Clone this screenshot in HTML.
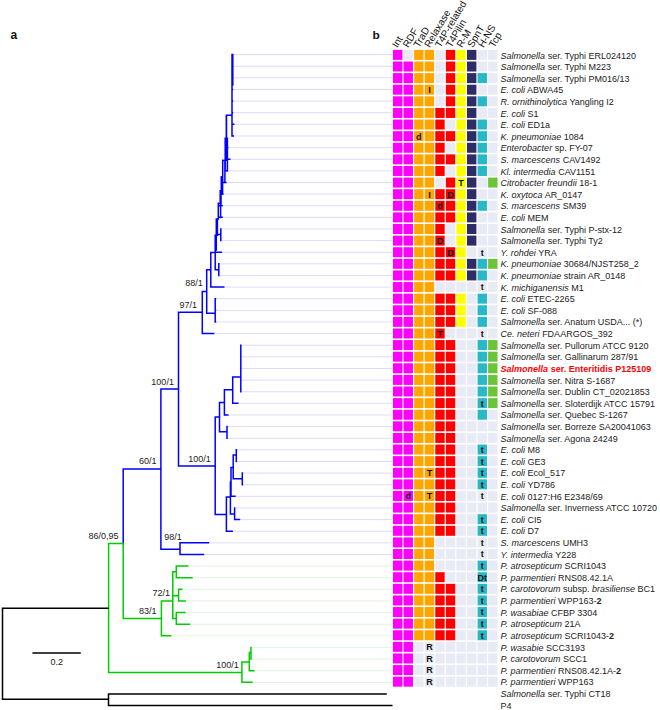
<!DOCTYPE html><html><head><meta charset="utf-8"><style>html,body{margin:0;padding:0;background:#fff;width:660px;height:710px;overflow:hidden}svg{display:block;font-family:"Liberation Sans",sans-serif}</style></head><body>
<svg width="660" height="710" viewBox="0 0 660 710">
<line x1="233.2" y1="54.60" x2="392" y2="54.60" stroke="#dcdcf9" stroke-width="1"/>
<line x1="233.2" y1="66.22" x2="392" y2="66.22" stroke="#dcdcf9" stroke-width="1"/>
<line x1="233.2" y1="77.85" x2="392" y2="77.85" stroke="#dcdcf9" stroke-width="1"/>
<line x1="233.2" y1="89.47" x2="392" y2="89.47" stroke="#dcdcf9" stroke-width="1"/>
<line x1="233.2" y1="101.10" x2="392" y2="101.10" stroke="#dcdcf9" stroke-width="1"/>
<line x1="233.2" y1="112.72" x2="392" y2="112.72" stroke="#dcdcf9" stroke-width="1"/>
<line x1="234.5" y1="124.35" x2="392" y2="124.35" stroke="#dcdcf9" stroke-width="1"/>
<line x1="234.0" y1="135.97" x2="392" y2="135.97" stroke="#dcdcf9" stroke-width="1"/>
<line x1="228.5" y1="147.60" x2="392" y2="147.60" stroke="#dcdcf9" stroke-width="1"/>
<line x1="230.5" y1="159.22" x2="392" y2="159.22" stroke="#dcdcf9" stroke-width="1"/>
<line x1="227.7" y1="170.85" x2="392" y2="170.85" stroke="#dcdcf9" stroke-width="1"/>
<line x1="226.6" y1="182.47" x2="392" y2="182.47" stroke="#dcdcf9" stroke-width="1"/>
<line x1="223.6" y1="194.10" x2="392" y2="194.10" stroke="#dcdcf9" stroke-width="1"/>
<line x1="222.8" y1="205.72" x2="392" y2="205.72" stroke="#dcdcf9" stroke-width="1"/>
<line x1="222.8" y1="217.35" x2="392" y2="217.35" stroke="#dcdcf9" stroke-width="1"/>
<line x1="221.6" y1="228.97" x2="392" y2="228.97" stroke="#dcdcf9" stroke-width="1"/>
<line x1="221.6" y1="240.60" x2="392" y2="240.60" stroke="#dcdcf9" stroke-width="1"/>
<line x1="222.1" y1="252.22" x2="392" y2="252.22" stroke="#dcdcf9" stroke-width="1"/>
<line x1="219.6" y1="263.85" x2="392" y2="263.85" stroke="#dcdcf9" stroke-width="1"/>
<line x1="219.6" y1="275.48" x2="392" y2="275.48" stroke="#dcdcf9" stroke-width="1"/>
<line x1="224.5" y1="287.10" x2="392" y2="287.10" stroke="#dcdcf9" stroke-width="1"/>
<line x1="216.2" y1="298.73" x2="392" y2="298.73" stroke="#dcdcf9" stroke-width="1"/>
<line x1="216.2" y1="310.35" x2="392" y2="310.35" stroke="#dcdcf9" stroke-width="1"/>
<line x1="216.2" y1="321.98" x2="392" y2="321.98" stroke="#dcdcf9" stroke-width="1"/>
<line x1="214.4" y1="333.60" x2="392" y2="333.60" stroke="#dcdcf9" stroke-width="1"/>
<line x1="241.6" y1="345.23" x2="392" y2="345.23" stroke="#dcdcf9" stroke-width="1"/>
<line x1="241.6" y1="356.85" x2="392" y2="356.85" stroke="#dcdcf9" stroke-width="1"/>
<line x1="241.6" y1="368.48" x2="392" y2="368.48" stroke="#dcdcf9" stroke-width="1"/>
<line x1="241.6" y1="380.10" x2="392" y2="380.10" stroke="#dcdcf9" stroke-width="1"/>
<line x1="241.6" y1="391.73" x2="392" y2="391.73" stroke="#dcdcf9" stroke-width="1"/>
<line x1="238.5" y1="403.35" x2="392" y2="403.35" stroke="#dcdcf9" stroke-width="1"/>
<line x1="228.6" y1="414.98" x2="392" y2="414.98" stroke="#dcdcf9" stroke-width="1"/>
<line x1="227.8" y1="426.60" x2="392" y2="426.60" stroke="#dcdcf9" stroke-width="1"/>
<line x1="227.8" y1="438.23" x2="392" y2="438.23" stroke="#dcdcf9" stroke-width="1"/>
<line x1="237.1" y1="449.85" x2="392" y2="449.85" stroke="#dcdcf9" stroke-width="1"/>
<line x1="237.1" y1="461.48" x2="392" y2="461.48" stroke="#dcdcf9" stroke-width="1"/>
<line x1="243.1" y1="473.10" x2="392" y2="473.10" stroke="#dcdcf9" stroke-width="1"/>
<line x1="243.1" y1="484.73" x2="392" y2="484.73" stroke="#dcdcf9" stroke-width="1"/>
<line x1="235.7" y1="496.35" x2="392" y2="496.35" stroke="#dcdcf9" stroke-width="1"/>
<line x1="235.4" y1="507.98" x2="392" y2="507.98" stroke="#dcdcf9" stroke-width="1"/>
<line x1="240.2" y1="519.60" x2="392" y2="519.60" stroke="#dcdcf9" stroke-width="1"/>
<line x1="232.9" y1="531.23" x2="392" y2="531.23" stroke="#dcdcf9" stroke-width="1"/>
<line x1="209.2" y1="542.85" x2="392" y2="542.85" stroke="#dcdcf9" stroke-width="1"/>
<line x1="204.2" y1="554.48" x2="392" y2="554.48" stroke="#dcdcf9" stroke-width="1"/>
<line x1="188.4" y1="566.10" x2="392" y2="566.10" stroke="#dff5df" stroke-width="1"/>
<line x1="192.7" y1="577.73" x2="392" y2="577.73" stroke="#dff5df" stroke-width="1"/>
<line x1="182.5" y1="589.35" x2="392" y2="589.35" stroke="#dff5df" stroke-width="1"/>
<line x1="185.9" y1="600.98" x2="392" y2="600.98" stroke="#dff5df" stroke-width="1"/>
<line x1="185.7" y1="612.60" x2="392" y2="612.60" stroke="#dff5df" stroke-width="1"/>
<line x1="190.2" y1="624.23" x2="392" y2="624.23" stroke="#dff5df" stroke-width="1"/>
<line x1="171.3" y1="635.85" x2="392" y2="635.85" stroke="#dff5df" stroke-width="1"/>
<line x1="251.8" y1="647.48" x2="392" y2="647.48" stroke="#dff5df" stroke-width="1"/>
<line x1="251.8" y1="659.10" x2="392" y2="659.10" stroke="#dff5df" stroke-width="1"/>
<line x1="254.6" y1="670.73" x2="392" y2="670.73" stroke="#dff5df" stroke-width="1"/>
<line x1="252.7" y1="682.35" x2="392" y2="682.35" stroke="#dff5df" stroke-width="1"/>
<path d="M160.90 388.15V549.95M122.45 469.00H160.90M178.50 311.45V466.65M160.15 388.90H178.50M177.75 465.90H215.20M177.75 312.20H202.30M202.30 290.65V334.35M201.55 333.60H214.40M201.55 291.40H206.70M206.70 269.05V313.95M205.95 313.20H215.20M215.20 297.98V322.73M214.45 298.73H216.20M214.45 310.35H216.20M214.45 321.98H216.20M205.95 269.80H210.80M210.80 251.75V287.85M210.05 287.10H224.50M210.05 252.50H215.20M215.20 234.55V270.55M214.45 252.22H222.10M214.45 269.80H218.80M218.80 263.10V276.23M218.05 263.85H219.60M218.05 275.48H219.60M214.45 235.30H216.30M216.30 218.25V237.25M215.55 234.50H220.80M220.80 228.22V241.35M220.05 228.97H221.60M220.05 240.60H221.60M215.55 219.00H218.30M218.30 202.45V219.75M217.55 205.72H222.80M217.55 217.35H222.80M217.55 203.50H220.20M220.20 190.05V204.55M219.45 191.00H221.30M221.30 176.05V194.85M220.55 194.10H223.60M220.55 177.00H222.70M222.70 159.45V183.22M221.95 182.47H226.60M221.95 160.50H225.20M225.20 137.45V171.60M224.45 147.60H228.50M224.45 159.22H230.50M224.45 170.85H227.70M224.45 138.20H226.30M226.30 114.45V138.95M225.55 115.20H232.00M232.00 53.85V136.72M231.25 54.60H233.20M231.25 66.22H233.20M231.25 77.85H233.20M231.25 89.47H233.20M231.25 101.10H233.20M231.25 112.72H233.20M231.25 124.35H234.50M231.25 135.97H234.00M226.50 114.45V160.95M227.40 137.45V171.75M224.90 159.45V182.95M222.60 177.25V194.95M221.00 190.05V205.25M220.60 202.95V218.25M217.40 218.25V235.95M216.30 234.25V250.75M232.80 53.85V85.75M215.20 416.35V515.25M214.45 417.10H219.50M219.50 401.65V432.45M218.75 431.70H227.00M227.00 425.85V438.98M226.25 426.60H227.80M226.25 438.23H227.80M218.75 402.40H224.40M224.40 388.95V415.73M223.65 414.98H228.60M223.65 389.70H232.70M232.70 376.15V404.10M231.95 403.35H238.50M231.95 376.90H240.80M240.80 344.48V392.48M240.05 345.23H241.60M240.05 356.85H241.60M240.05 368.48H241.60M240.05 380.10H241.60M240.05 391.73H241.60M214.45 514.50H226.40M226.40 496.25V531.98M225.65 531.23H232.90M225.65 497.00H230.40M230.40 481.25V514.75M229.65 514.00H234.60M234.60 507.23V520.35M233.85 507.98H235.40M233.85 519.60H240.20M229.65 482.00H231.00M231.00 466.75V497.10M230.25 496.35H235.70M230.25 467.50H233.20M233.20 454.25V479.45M232.45 455.00H236.30M236.30 449.10V462.23M235.55 449.85H237.10M235.55 461.48H237.10M232.45 478.70H242.30M242.30 472.35V485.48M241.55 473.10H243.10M241.55 484.73H243.10M160.15 549.20H180.00M180.00 542.10V555.23M179.25 542.85H209.20M179.25 554.48H204.20M123.20 468.25V544.35" stroke="#0000ff" stroke-width="1.5" fill="none"/>
<path d="M108.60 542.85V673.15M107.85 543.60H123.20M123.20 542.85V619.35M122.45 618.60H161.40M161.40 600.35V636.60M160.65 635.85H171.30M160.65 601.10H172.80M172.80 571.05V619.35M172.05 571.80H176.30M176.30 565.35V578.48M175.55 566.10H188.40M175.55 577.73H192.70M172.05 595.80H178.60M178.60 588.60V601.73M177.85 589.35H182.50M177.85 600.98H185.90M172.05 618.60H176.30M176.30 611.85V624.98M175.55 612.60H185.70M175.55 624.23H190.20M107.85 672.40H241.90M241.90 661.25V683.10M241.15 682.35H252.70M241.15 662.00H249.30M249.30 651.75V671.48M248.55 670.73H254.60M248.55 652.50H251.00M251.00 646.73V659.85M250.25 647.48H251.80M250.25 659.10H251.80" stroke="#00cc00" stroke-width="1.5" fill="none"/>
<path d="M2.50 607.55V700.05M1.75 608.30H108.60M1.75 699.30H108.50M108.50 693.25V706.25M107.75 694.00H386.80M107.75 705.50H392.50M32.45 653.00H80.80" stroke="#000000" stroke-width="1.5" fill="none"/>
<rect x="393.00" y="49.90" width="9.4" height="10.0" fill="#ff00ff"/>
<rect x="403.57" y="49.90" width="9.4" height="10.0" fill="#e8ebf5"/>
<rect x="414.14" y="49.90" width="9.4" height="10.0" fill="#ffa500"/>
<rect x="424.71" y="49.90" width="9.4" height="10.0" fill="#ffa500"/>
<rect x="435.28" y="49.90" width="9.4" height="10.0" fill="#e8ebf5"/>
<rect x="445.85" y="49.90" width="9.4" height="10.0" fill="#ff0000"/>
<rect x="456.42" y="49.90" width="9.4" height="10.0" fill="#ffff00"/>
<rect x="466.99" y="49.90" width="9.4" height="10.0" fill="#2e2c66"/>
<rect x="477.56" y="49.90" width="9.4" height="10.0" fill="#e8ebf5"/>
<rect x="488.13" y="49.90" width="9.4" height="10.0" fill="#e8ebf5"/>
<rect x="393.00" y="61.51" width="9.4" height="10.0" fill="#ff00ff"/>
<rect x="403.57" y="61.51" width="9.4" height="10.0" fill="#ff00ff"/>
<rect x="414.14" y="61.51" width="9.4" height="10.0" fill="#ffa500"/>
<rect x="424.71" y="61.51" width="9.4" height="10.0" fill="#ffa500"/>
<rect x="435.28" y="61.51" width="9.4" height="10.0" fill="#e8ebf5"/>
<rect x="445.85" y="61.51" width="9.4" height="10.0" fill="#ff0000"/>
<rect x="456.42" y="61.51" width="9.4" height="10.0" fill="#ffff00"/>
<rect x="466.99" y="61.51" width="9.4" height="10.0" fill="#2e2c66"/>
<rect x="477.56" y="61.51" width="9.4" height="10.0" fill="#e8ebf5"/>
<rect x="488.13" y="61.51" width="9.4" height="10.0" fill="#e8ebf5"/>
<rect x="393.00" y="73.11" width="9.4" height="10.0" fill="#ff00ff"/>
<rect x="403.57" y="73.11" width="9.4" height="10.0" fill="#ff00ff"/>
<rect x="414.14" y="73.11" width="9.4" height="10.0" fill="#ffa500"/>
<rect x="424.71" y="73.11" width="9.4" height="10.0" fill="#ffa500"/>
<rect x="435.28" y="73.11" width="9.4" height="10.0" fill="#e8ebf5"/>
<rect x="445.85" y="73.11" width="9.4" height="10.0" fill="#ff0000"/>
<rect x="456.42" y="73.11" width="9.4" height="10.0" fill="#ffff00"/>
<rect x="466.99" y="73.11" width="9.4" height="10.0" fill="#2e2c66"/>
<rect x="477.56" y="73.11" width="9.4" height="10.0" fill="#28b8c8"/>
<rect x="488.13" y="73.11" width="9.4" height="10.0" fill="#e8ebf5"/>
<rect x="393.00" y="84.72" width="9.4" height="10.0" fill="#ff00ff"/>
<rect x="403.57" y="84.72" width="9.4" height="10.0" fill="#ff00ff"/>
<rect x="414.14" y="84.72" width="9.4" height="10.0" fill="#ffa500"/>
<rect x="424.71" y="84.72" width="9.4" height="10.0" fill="#ffa500"/>
<rect x="435.28" y="84.72" width="9.4" height="10.0" fill="#e8ebf5"/>
<rect x="445.85" y="84.72" width="9.4" height="10.0" fill="#ff0000"/>
<rect x="456.42" y="84.72" width="9.4" height="10.0" fill="#ffff00"/>
<rect x="466.99" y="84.72" width="9.4" height="10.0" fill="#2e2c66"/>
<rect x="477.56" y="84.72" width="9.4" height="10.0" fill="#e8ebf5"/>
<rect x="488.13" y="84.72" width="9.4" height="10.0" fill="#e8ebf5"/>
<rect x="393.00" y="96.33" width="9.4" height="10.0" fill="#ff00ff"/>
<rect x="403.57" y="96.33" width="9.4" height="10.0" fill="#ff00ff"/>
<rect x="414.14" y="96.33" width="9.4" height="10.0" fill="#ffa500"/>
<rect x="424.71" y="96.33" width="9.4" height="10.0" fill="#ffa500"/>
<rect x="435.28" y="96.33" width="9.4" height="10.0" fill="#e8ebf5"/>
<rect x="445.85" y="96.33" width="9.4" height="10.0" fill="#ff0000"/>
<rect x="456.42" y="96.33" width="9.4" height="10.0" fill="#ffff00"/>
<rect x="466.99" y="96.33" width="9.4" height="10.0" fill="#2e2c66"/>
<rect x="477.56" y="96.33" width="9.4" height="10.0" fill="#28b8c8"/>
<rect x="488.13" y="96.33" width="9.4" height="10.0" fill="#e8ebf5"/>
<rect x="393.00" y="107.94" width="9.4" height="10.0" fill="#ff00ff"/>
<rect x="403.57" y="107.94" width="9.4" height="10.0" fill="#ff00ff"/>
<rect x="414.14" y="107.94" width="9.4" height="10.0" fill="#ffa500"/>
<rect x="424.71" y="107.94" width="9.4" height="10.0" fill="#ffa500"/>
<rect x="435.28" y="107.94" width="9.4" height="10.0" fill="#ff0000"/>
<rect x="445.85" y="107.94" width="9.4" height="10.0" fill="#ff0000"/>
<rect x="456.42" y="107.94" width="9.4" height="10.0" fill="#ffff00"/>
<rect x="466.99" y="107.94" width="9.4" height="10.0" fill="#2e2c66"/>
<rect x="477.56" y="107.94" width="9.4" height="10.0" fill="#e8ebf5"/>
<rect x="488.13" y="107.94" width="9.4" height="10.0" fill="#e8ebf5"/>
<rect x="393.00" y="119.54" width="9.4" height="10.0" fill="#ff00ff"/>
<rect x="403.57" y="119.54" width="9.4" height="10.0" fill="#ff00ff"/>
<rect x="414.14" y="119.54" width="9.4" height="10.0" fill="#ffa500"/>
<rect x="424.71" y="119.54" width="9.4" height="10.0" fill="#ffa500"/>
<rect x="435.28" y="119.54" width="9.4" height="10.0" fill="#ff0000"/>
<rect x="445.85" y="119.54" width="9.4" height="10.0" fill="#e8ebf5"/>
<rect x="456.42" y="119.54" width="9.4" height="10.0" fill="#ffff00"/>
<rect x="466.99" y="119.54" width="9.4" height="10.0" fill="#2e2c66"/>
<rect x="477.56" y="119.54" width="9.4" height="10.0" fill="#28b8c8"/>
<rect x="488.13" y="119.54" width="9.4" height="10.0" fill="#e8ebf5"/>
<rect x="393.00" y="131.15" width="9.4" height="10.0" fill="#ff00ff"/>
<rect x="403.57" y="131.15" width="9.4" height="10.0" fill="#ff00ff"/>
<rect x="414.14" y="131.15" width="9.4" height="10.0" fill="#ffa500"/>
<rect x="424.71" y="131.15" width="9.4" height="10.0" fill="#ffa500"/>
<rect x="435.28" y="131.15" width="9.4" height="10.0" fill="#ff0000"/>
<rect x="445.85" y="131.15" width="9.4" height="10.0" fill="#ff0000"/>
<rect x="456.42" y="131.15" width="9.4" height="10.0" fill="#ffff00"/>
<rect x="466.99" y="131.15" width="9.4" height="10.0" fill="#2e2c66"/>
<rect x="477.56" y="131.15" width="9.4" height="10.0" fill="#28b8c8"/>
<rect x="488.13" y="131.15" width="9.4" height="10.0" fill="#e8ebf5"/>
<rect x="393.00" y="142.76" width="9.4" height="10.0" fill="#ff00ff"/>
<rect x="403.57" y="142.76" width="9.4" height="10.0" fill="#ff00ff"/>
<rect x="414.14" y="142.76" width="9.4" height="10.0" fill="#ffa500"/>
<rect x="424.71" y="142.76" width="9.4" height="10.0" fill="#ffa500"/>
<rect x="435.28" y="142.76" width="9.4" height="10.0" fill="#ff0000"/>
<rect x="445.85" y="142.76" width="9.4" height="10.0" fill="#e8ebf5"/>
<rect x="456.42" y="142.76" width="9.4" height="10.0" fill="#ffff00"/>
<rect x="466.99" y="142.76" width="9.4" height="10.0" fill="#2e2c66"/>
<rect x="477.56" y="142.76" width="9.4" height="10.0" fill="#28b8c8"/>
<rect x="488.13" y="142.76" width="9.4" height="10.0" fill="#e8ebf5"/>
<rect x="393.00" y="154.36" width="9.4" height="10.0" fill="#ff00ff"/>
<rect x="403.57" y="154.36" width="9.4" height="10.0" fill="#ff00ff"/>
<rect x="414.14" y="154.36" width="9.4" height="10.0" fill="#ffa500"/>
<rect x="424.71" y="154.36" width="9.4" height="10.0" fill="#ffa500"/>
<rect x="435.28" y="154.36" width="9.4" height="10.0" fill="#ff0000"/>
<rect x="445.85" y="154.36" width="9.4" height="10.0" fill="#ff0000"/>
<rect x="456.42" y="154.36" width="9.4" height="10.0" fill="#ffff00"/>
<rect x="466.99" y="154.36" width="9.4" height="10.0" fill="#2e2c66"/>
<rect x="477.56" y="154.36" width="9.4" height="10.0" fill="#28b8c8"/>
<rect x="488.13" y="154.36" width="9.4" height="10.0" fill="#e8ebf5"/>
<rect x="393.00" y="165.97" width="9.4" height="10.0" fill="#ff00ff"/>
<rect x="403.57" y="165.97" width="9.4" height="10.0" fill="#ff00ff"/>
<rect x="414.14" y="165.97" width="9.4" height="10.0" fill="#ffa500"/>
<rect x="424.71" y="165.97" width="9.4" height="10.0" fill="#ffa500"/>
<rect x="435.28" y="165.97" width="9.4" height="10.0" fill="#ff0000"/>
<rect x="445.85" y="165.97" width="9.4" height="10.0" fill="#e8ebf5"/>
<rect x="456.42" y="165.97" width="9.4" height="10.0" fill="#ffff00"/>
<rect x="466.99" y="165.97" width="9.4" height="10.0" fill="#2e2c66"/>
<rect x="477.56" y="165.97" width="9.4" height="10.0" fill="#28b8c8"/>
<rect x="488.13" y="165.97" width="9.4" height="10.0" fill="#e8ebf5"/>
<rect x="393.00" y="177.58" width="9.4" height="10.0" fill="#ff00ff"/>
<rect x="403.57" y="177.58" width="9.4" height="10.0" fill="#ff00ff"/>
<rect x="414.14" y="177.58" width="9.4" height="10.0" fill="#ffa500"/>
<rect x="424.71" y="177.58" width="9.4" height="10.0" fill="#ffa500"/>
<rect x="435.28" y="177.58" width="9.4" height="10.0" fill="#e8ebf5"/>
<rect x="445.85" y="177.58" width="9.4" height="10.0" fill="#ff0000"/>
<rect x="456.42" y="177.58" width="9.4" height="10.0" fill="#ffff00"/>
<rect x="466.99" y="177.58" width="9.4" height="10.0" fill="#2e2c66"/>
<rect x="477.56" y="177.58" width="9.4" height="10.0" fill="#e8ebf5"/>
<rect x="488.13" y="177.58" width="9.4" height="10.0" fill="#6cc43a"/>
<rect x="393.00" y="189.18" width="9.4" height="10.0" fill="#ff00ff"/>
<rect x="403.57" y="189.18" width="9.4" height="10.0" fill="#ff00ff"/>
<rect x="414.14" y="189.18" width="9.4" height="10.0" fill="#ffa500"/>
<rect x="424.71" y="189.18" width="9.4" height="10.0" fill="#ffa500"/>
<rect x="435.28" y="189.18" width="9.4" height="10.0" fill="#ff0000"/>
<rect x="445.85" y="189.18" width="9.4" height="10.0" fill="#ff0000"/>
<rect x="456.42" y="189.18" width="9.4" height="10.0" fill="#ffff00"/>
<rect x="466.99" y="189.18" width="9.4" height="10.0" fill="#2e2c66"/>
<rect x="477.56" y="189.18" width="9.4" height="10.0" fill="#e8ebf5"/>
<rect x="488.13" y="189.18" width="9.4" height="10.0" fill="#e8ebf5"/>
<rect x="393.00" y="200.79" width="9.4" height="10.0" fill="#ff00ff"/>
<rect x="403.57" y="200.79" width="9.4" height="10.0" fill="#ff00ff"/>
<rect x="414.14" y="200.79" width="9.4" height="10.0" fill="#ffa500"/>
<rect x="424.71" y="200.79" width="9.4" height="10.0" fill="#ffa500"/>
<rect x="435.28" y="200.79" width="9.4" height="10.0" fill="#ff0000"/>
<rect x="445.85" y="200.79" width="9.4" height="10.0" fill="#ff0000"/>
<rect x="456.42" y="200.79" width="9.4" height="10.0" fill="#ffff00"/>
<rect x="466.99" y="200.79" width="9.4" height="10.0" fill="#2e2c66"/>
<rect x="477.56" y="200.79" width="9.4" height="10.0" fill="#28b8c8"/>
<rect x="488.13" y="200.79" width="9.4" height="10.0" fill="#e8ebf5"/>
<rect x="393.00" y="212.40" width="9.4" height="10.0" fill="#ff00ff"/>
<rect x="403.57" y="212.40" width="9.4" height="10.0" fill="#ff00ff"/>
<rect x="414.14" y="212.40" width="9.4" height="10.0" fill="#ffa500"/>
<rect x="424.71" y="212.40" width="9.4" height="10.0" fill="#ffa500"/>
<rect x="435.28" y="212.40" width="9.4" height="10.0" fill="#ff0000"/>
<rect x="445.85" y="212.40" width="9.4" height="10.0" fill="#ff0000"/>
<rect x="456.42" y="212.40" width="9.4" height="10.0" fill="#ffff00"/>
<rect x="466.99" y="212.40" width="9.4" height="10.0" fill="#2e2c66"/>
<rect x="477.56" y="212.40" width="9.4" height="10.0" fill="#e8ebf5"/>
<rect x="488.13" y="212.40" width="9.4" height="10.0" fill="#e8ebf5"/>
<rect x="393.00" y="224.00" width="9.4" height="10.0" fill="#ff00ff"/>
<rect x="403.57" y="224.00" width="9.4" height="10.0" fill="#ff00ff"/>
<rect x="414.14" y="224.00" width="9.4" height="10.0" fill="#ffa500"/>
<rect x="424.71" y="224.00" width="9.4" height="10.0" fill="#ffa500"/>
<rect x="435.28" y="224.00" width="9.4" height="10.0" fill="#ff0000"/>
<rect x="445.85" y="224.00" width="9.4" height="10.0" fill="#e8ebf5"/>
<rect x="456.42" y="224.00" width="9.4" height="10.0" fill="#ffff00"/>
<rect x="466.99" y="224.00" width="9.4" height="10.0" fill="#2e2c66"/>
<rect x="477.56" y="224.00" width="9.4" height="10.0" fill="#e8ebf5"/>
<rect x="488.13" y="224.00" width="9.4" height="10.0" fill="#e8ebf5"/>
<rect x="393.00" y="235.61" width="9.4" height="10.0" fill="#ff00ff"/>
<rect x="403.57" y="235.61" width="9.4" height="10.0" fill="#ff00ff"/>
<rect x="414.14" y="235.61" width="9.4" height="10.0" fill="#ffa500"/>
<rect x="424.71" y="235.61" width="9.4" height="10.0" fill="#ffa500"/>
<rect x="435.28" y="235.61" width="9.4" height="10.0" fill="#ff0000"/>
<rect x="445.85" y="235.61" width="9.4" height="10.0" fill="#e8ebf5"/>
<rect x="456.42" y="235.61" width="9.4" height="10.0" fill="#ffff00"/>
<rect x="466.99" y="235.61" width="9.4" height="10.0" fill="#2e2c66"/>
<rect x="477.56" y="235.61" width="9.4" height="10.0" fill="#e8ebf5"/>
<rect x="488.13" y="235.61" width="9.4" height="10.0" fill="#e8ebf5"/>
<rect x="393.00" y="247.22" width="9.4" height="10.0" fill="#ff00ff"/>
<rect x="403.57" y="247.22" width="9.4" height="10.0" fill="#ff00ff"/>
<rect x="414.14" y="247.22" width="9.4" height="10.0" fill="#ffa500"/>
<rect x="424.71" y="247.22" width="9.4" height="10.0" fill="#ffa500"/>
<rect x="435.28" y="247.22" width="9.4" height="10.0" fill="#ff0000"/>
<rect x="445.85" y="247.22" width="9.4" height="10.0" fill="#ff0000"/>
<rect x="456.42" y="247.22" width="9.4" height="10.0" fill="#ffff00"/>
<rect x="466.99" y="247.22" width="9.4" height="10.0" fill="#e8ebf5"/>
<rect x="477.56" y="247.22" width="9.4" height="10.0" fill="#e8ebf5"/>
<rect x="488.13" y="247.22" width="9.4" height="10.0" fill="#e8ebf5"/>
<rect x="393.00" y="258.83" width="9.4" height="10.0" fill="#ff00ff"/>
<rect x="403.57" y="258.83" width="9.4" height="10.0" fill="#ff00ff"/>
<rect x="414.14" y="258.83" width="9.4" height="10.0" fill="#ffa500"/>
<rect x="424.71" y="258.83" width="9.4" height="10.0" fill="#ffa500"/>
<rect x="435.28" y="258.83" width="9.4" height="10.0" fill="#ff0000"/>
<rect x="445.85" y="258.83" width="9.4" height="10.0" fill="#ff0000"/>
<rect x="456.42" y="258.83" width="9.4" height="10.0" fill="#ffff00"/>
<rect x="466.99" y="258.83" width="9.4" height="10.0" fill="#2e2c66"/>
<rect x="477.56" y="258.83" width="9.4" height="10.0" fill="#28b8c8"/>
<rect x="488.13" y="258.83" width="9.4" height="10.0" fill="#6cc43a"/>
<rect x="393.00" y="270.43" width="9.4" height="10.0" fill="#ff00ff"/>
<rect x="403.57" y="270.43" width="9.4" height="10.0" fill="#ff00ff"/>
<rect x="414.14" y="270.43" width="9.4" height="10.0" fill="#ffa500"/>
<rect x="424.71" y="270.43" width="9.4" height="10.0" fill="#ffa500"/>
<rect x="435.28" y="270.43" width="9.4" height="10.0" fill="#ff0000"/>
<rect x="445.85" y="270.43" width="9.4" height="10.0" fill="#ff0000"/>
<rect x="456.42" y="270.43" width="9.4" height="10.0" fill="#ffff00"/>
<rect x="466.99" y="270.43" width="9.4" height="10.0" fill="#2e2c66"/>
<rect x="477.56" y="270.43" width="9.4" height="10.0" fill="#28b8c8"/>
<rect x="488.13" y="270.43" width="9.4" height="10.0" fill="#e8ebf5"/>
<rect x="393.00" y="282.04" width="9.4" height="10.0" fill="#ff00ff"/>
<rect x="403.57" y="282.04" width="9.4" height="10.0" fill="#ff00ff"/>
<rect x="414.14" y="282.04" width="9.4" height="10.0" fill="#ffa500"/>
<rect x="424.71" y="282.04" width="9.4" height="10.0" fill="#ffa500"/>
<rect x="435.28" y="282.04" width="9.4" height="10.0" fill="#e8ebf5"/>
<rect x="445.85" y="282.04" width="9.4" height="10.0" fill="#e8ebf5"/>
<rect x="456.42" y="282.04" width="9.4" height="10.0" fill="#e8ebf5"/>
<rect x="466.99" y="282.04" width="9.4" height="10.0" fill="#e8ebf5"/>
<rect x="477.56" y="282.04" width="9.4" height="10.0" fill="#e8ebf5"/>
<rect x="488.13" y="282.04" width="9.4" height="10.0" fill="#e8ebf5"/>
<rect x="393.00" y="293.65" width="9.4" height="10.0" fill="#ff00ff"/>
<rect x="403.57" y="293.65" width="9.4" height="10.0" fill="#ff00ff"/>
<rect x="414.14" y="293.65" width="9.4" height="10.0" fill="#ffa500"/>
<rect x="424.71" y="293.65" width="9.4" height="10.0" fill="#ffa500"/>
<rect x="435.28" y="293.65" width="9.4" height="10.0" fill="#ff0000"/>
<rect x="445.85" y="293.65" width="9.4" height="10.0" fill="#ff0000"/>
<rect x="456.42" y="293.65" width="9.4" height="10.0" fill="#ffff00"/>
<rect x="466.99" y="293.65" width="9.4" height="10.0" fill="#e8ebf5"/>
<rect x="477.56" y="293.65" width="9.4" height="10.0" fill="#28b8c8"/>
<rect x="488.13" y="293.65" width="9.4" height="10.0" fill="#e8ebf5"/>
<rect x="393.00" y="305.25" width="9.4" height="10.0" fill="#ff00ff"/>
<rect x="403.57" y="305.25" width="9.4" height="10.0" fill="#ff00ff"/>
<rect x="414.14" y="305.25" width="9.4" height="10.0" fill="#ffa500"/>
<rect x="424.71" y="305.25" width="9.4" height="10.0" fill="#ffa500"/>
<rect x="435.28" y="305.25" width="9.4" height="10.0" fill="#ff0000"/>
<rect x="445.85" y="305.25" width="9.4" height="10.0" fill="#ff0000"/>
<rect x="456.42" y="305.25" width="9.4" height="10.0" fill="#ffff00"/>
<rect x="466.99" y="305.25" width="9.4" height="10.0" fill="#e8ebf5"/>
<rect x="477.56" y="305.25" width="9.4" height="10.0" fill="#28b8c8"/>
<rect x="488.13" y="305.25" width="9.4" height="10.0" fill="#e8ebf5"/>
<rect x="393.00" y="316.86" width="9.4" height="10.0" fill="#ff00ff"/>
<rect x="403.57" y="316.86" width="9.4" height="10.0" fill="#ff00ff"/>
<rect x="414.14" y="316.86" width="9.4" height="10.0" fill="#ffa500"/>
<rect x="424.71" y="316.86" width="9.4" height="10.0" fill="#ffa500"/>
<rect x="435.28" y="316.86" width="9.4" height="10.0" fill="#ff0000"/>
<rect x="445.85" y="316.86" width="9.4" height="10.0" fill="#ff0000"/>
<rect x="456.42" y="316.86" width="9.4" height="10.0" fill="#ffff00"/>
<rect x="466.99" y="316.86" width="9.4" height="10.0" fill="#e8ebf5"/>
<rect x="477.56" y="316.86" width="9.4" height="10.0" fill="#28b8c8"/>
<rect x="488.13" y="316.86" width="9.4" height="10.0" fill="#e8ebf5"/>
<rect x="393.00" y="328.47" width="9.4" height="10.0" fill="#ff00ff"/>
<rect x="403.57" y="328.47" width="9.4" height="10.0" fill="#ff00ff"/>
<rect x="414.14" y="328.47" width="9.4" height="10.0" fill="#ffa500"/>
<rect x="424.71" y="328.47" width="9.4" height="10.0" fill="#ffa500"/>
<rect x="435.28" y="328.47" width="9.4" height="10.0" fill="#ff0000"/>
<rect x="445.85" y="328.47" width="9.4" height="10.0" fill="#e8ebf5"/>
<rect x="456.42" y="328.47" width="9.4" height="10.0" fill="#e8ebf5"/>
<rect x="466.99" y="328.47" width="9.4" height="10.0" fill="#e8ebf5"/>
<rect x="477.56" y="328.47" width="9.4" height="10.0" fill="#e8ebf5"/>
<rect x="488.13" y="328.47" width="9.4" height="10.0" fill="#e8ebf5"/>
<rect x="393.00" y="340.07" width="9.4" height="10.0" fill="#ff00ff"/>
<rect x="403.57" y="340.07" width="9.4" height="10.0" fill="#ff00ff"/>
<rect x="414.14" y="340.07" width="9.4" height="10.0" fill="#ffa500"/>
<rect x="424.71" y="340.07" width="9.4" height="10.0" fill="#ffa500"/>
<rect x="435.28" y="340.07" width="9.4" height="10.0" fill="#ff0000"/>
<rect x="445.85" y="340.07" width="9.4" height="10.0" fill="#ff0000"/>
<rect x="456.42" y="340.07" width="9.4" height="10.0" fill="#e8ebf5"/>
<rect x="466.99" y="340.07" width="9.4" height="10.0" fill="#e8ebf5"/>
<rect x="477.56" y="340.07" width="9.4" height="10.0" fill="#28b8c8"/>
<rect x="488.13" y="340.07" width="9.4" height="10.0" fill="#6cc43a"/>
<rect x="393.00" y="351.68" width="9.4" height="10.0" fill="#ff00ff"/>
<rect x="403.57" y="351.68" width="9.4" height="10.0" fill="#ff00ff"/>
<rect x="414.14" y="351.68" width="9.4" height="10.0" fill="#ffa500"/>
<rect x="424.71" y="351.68" width="9.4" height="10.0" fill="#ffa500"/>
<rect x="435.28" y="351.68" width="9.4" height="10.0" fill="#ff0000"/>
<rect x="445.85" y="351.68" width="9.4" height="10.0" fill="#ff0000"/>
<rect x="456.42" y="351.68" width="9.4" height="10.0" fill="#e8ebf5"/>
<rect x="466.99" y="351.68" width="9.4" height="10.0" fill="#e8ebf5"/>
<rect x="477.56" y="351.68" width="9.4" height="10.0" fill="#28b8c8"/>
<rect x="488.13" y="351.68" width="9.4" height="10.0" fill="#6cc43a"/>
<rect x="393.00" y="363.29" width="9.4" height="10.0" fill="#ff00ff"/>
<rect x="403.57" y="363.29" width="9.4" height="10.0" fill="#ff00ff"/>
<rect x="414.14" y="363.29" width="9.4" height="10.0" fill="#ffa500"/>
<rect x="424.71" y="363.29" width="9.4" height="10.0" fill="#ffa500"/>
<rect x="435.28" y="363.29" width="9.4" height="10.0" fill="#ff0000"/>
<rect x="445.85" y="363.29" width="9.4" height="10.0" fill="#ff0000"/>
<rect x="456.42" y="363.29" width="9.4" height="10.0" fill="#e8ebf5"/>
<rect x="466.99" y="363.29" width="9.4" height="10.0" fill="#e8ebf5"/>
<rect x="477.56" y="363.29" width="9.4" height="10.0" fill="#28b8c8"/>
<rect x="488.13" y="363.29" width="9.4" height="10.0" fill="#6cc43a"/>
<rect x="393.00" y="374.90" width="9.4" height="10.0" fill="#ff00ff"/>
<rect x="403.57" y="374.90" width="9.4" height="10.0" fill="#ff00ff"/>
<rect x="414.14" y="374.90" width="9.4" height="10.0" fill="#ffa500"/>
<rect x="424.71" y="374.90" width="9.4" height="10.0" fill="#ffa500"/>
<rect x="435.28" y="374.90" width="9.4" height="10.0" fill="#ff0000"/>
<rect x="445.85" y="374.90" width="9.4" height="10.0" fill="#ff0000"/>
<rect x="456.42" y="374.90" width="9.4" height="10.0" fill="#e8ebf5"/>
<rect x="466.99" y="374.90" width="9.4" height="10.0" fill="#e8ebf5"/>
<rect x="477.56" y="374.90" width="9.4" height="10.0" fill="#28b8c8"/>
<rect x="488.13" y="374.90" width="9.4" height="10.0" fill="#6cc43a"/>
<rect x="393.00" y="386.50" width="9.4" height="10.0" fill="#ff00ff"/>
<rect x="403.57" y="386.50" width="9.4" height="10.0" fill="#ff00ff"/>
<rect x="414.14" y="386.50" width="9.4" height="10.0" fill="#ffa500"/>
<rect x="424.71" y="386.50" width="9.4" height="10.0" fill="#ffa500"/>
<rect x="435.28" y="386.50" width="9.4" height="10.0" fill="#ff0000"/>
<rect x="445.85" y="386.50" width="9.4" height="10.0" fill="#ff0000"/>
<rect x="456.42" y="386.50" width="9.4" height="10.0" fill="#e8ebf5"/>
<rect x="466.99" y="386.50" width="9.4" height="10.0" fill="#e8ebf5"/>
<rect x="477.56" y="386.50" width="9.4" height="10.0" fill="#28b8c8"/>
<rect x="488.13" y="386.50" width="9.4" height="10.0" fill="#6cc43a"/>
<rect x="393.00" y="398.11" width="9.4" height="10.0" fill="#ff00ff"/>
<rect x="403.57" y="398.11" width="9.4" height="10.0" fill="#ff00ff"/>
<rect x="414.14" y="398.11" width="9.4" height="10.0" fill="#ffa500"/>
<rect x="424.71" y="398.11" width="9.4" height="10.0" fill="#ffa500"/>
<rect x="435.28" y="398.11" width="9.4" height="10.0" fill="#ff0000"/>
<rect x="445.85" y="398.11" width="9.4" height="10.0" fill="#ff0000"/>
<rect x="456.42" y="398.11" width="9.4" height="10.0" fill="#e8ebf5"/>
<rect x="466.99" y="398.11" width="9.4" height="10.0" fill="#e8ebf5"/>
<rect x="477.56" y="398.11" width="9.4" height="10.0" fill="#28b8c8"/>
<rect x="488.13" y="398.11" width="9.4" height="10.0" fill="#6cc43a"/>
<rect x="393.00" y="409.72" width="9.4" height="10.0" fill="#ff00ff"/>
<rect x="403.57" y="409.72" width="9.4" height="10.0" fill="#ff00ff"/>
<rect x="414.14" y="409.72" width="9.4" height="10.0" fill="#ffa500"/>
<rect x="424.71" y="409.72" width="9.4" height="10.0" fill="#ffa500"/>
<rect x="435.28" y="409.72" width="9.4" height="10.0" fill="#ff0000"/>
<rect x="445.85" y="409.72" width="9.4" height="10.0" fill="#ff0000"/>
<rect x="456.42" y="409.72" width="9.4" height="10.0" fill="#e8ebf5"/>
<rect x="466.99" y="409.72" width="9.4" height="10.0" fill="#e8ebf5"/>
<rect x="477.56" y="409.72" width="9.4" height="10.0" fill="#28b8c8"/>
<rect x="488.13" y="409.72" width="9.4" height="10.0" fill="#e8ebf5"/>
<rect x="393.00" y="421.32" width="9.4" height="10.0" fill="#ff00ff"/>
<rect x="403.57" y="421.32" width="9.4" height="10.0" fill="#ff00ff"/>
<rect x="414.14" y="421.32" width="9.4" height="10.0" fill="#ffa500"/>
<rect x="424.71" y="421.32" width="9.4" height="10.0" fill="#ffa500"/>
<rect x="435.28" y="421.32" width="9.4" height="10.0" fill="#ff0000"/>
<rect x="445.85" y="421.32" width="9.4" height="10.0" fill="#ff0000"/>
<rect x="456.42" y="421.32" width="9.4" height="10.0" fill="#e8ebf5"/>
<rect x="466.99" y="421.32" width="9.4" height="10.0" fill="#e8ebf5"/>
<rect x="477.56" y="421.32" width="9.4" height="10.0" fill="#e8ebf5"/>
<rect x="488.13" y="421.32" width="9.4" height="10.0" fill="#e8ebf5"/>
<rect x="393.00" y="432.93" width="9.4" height="10.0" fill="#ff00ff"/>
<rect x="403.57" y="432.93" width="9.4" height="10.0" fill="#ff00ff"/>
<rect x="414.14" y="432.93" width="9.4" height="10.0" fill="#ffa500"/>
<rect x="424.71" y="432.93" width="9.4" height="10.0" fill="#ffa500"/>
<rect x="435.28" y="432.93" width="9.4" height="10.0" fill="#ff0000"/>
<rect x="445.85" y="432.93" width="9.4" height="10.0" fill="#ff0000"/>
<rect x="456.42" y="432.93" width="9.4" height="10.0" fill="#e8ebf5"/>
<rect x="466.99" y="432.93" width="9.4" height="10.0" fill="#e8ebf5"/>
<rect x="477.56" y="432.93" width="9.4" height="10.0" fill="#e8ebf5"/>
<rect x="488.13" y="432.93" width="9.4" height="10.0" fill="#e8ebf5"/>
<rect x="393.00" y="444.54" width="9.4" height="10.0" fill="#ff00ff"/>
<rect x="403.57" y="444.54" width="9.4" height="10.0" fill="#ff00ff"/>
<rect x="414.14" y="444.54" width="9.4" height="10.0" fill="#ffa500"/>
<rect x="424.71" y="444.54" width="9.4" height="10.0" fill="#ffa500"/>
<rect x="435.28" y="444.54" width="9.4" height="10.0" fill="#ff0000"/>
<rect x="445.85" y="444.54" width="9.4" height="10.0" fill="#ff0000"/>
<rect x="456.42" y="444.54" width="9.4" height="10.0" fill="#e8ebf5"/>
<rect x="466.99" y="444.54" width="9.4" height="10.0" fill="#e8ebf5"/>
<rect x="477.56" y="444.54" width="9.4" height="10.0" fill="#28b8c8"/>
<rect x="488.13" y="444.54" width="9.4" height="10.0" fill="#e8ebf5"/>
<rect x="393.00" y="456.14" width="9.4" height="10.0" fill="#ff00ff"/>
<rect x="403.57" y="456.14" width="9.4" height="10.0" fill="#ff00ff"/>
<rect x="414.14" y="456.14" width="9.4" height="10.0" fill="#ffa500"/>
<rect x="424.71" y="456.14" width="9.4" height="10.0" fill="#ffa500"/>
<rect x="435.28" y="456.14" width="9.4" height="10.0" fill="#ff0000"/>
<rect x="445.85" y="456.14" width="9.4" height="10.0" fill="#ff0000"/>
<rect x="456.42" y="456.14" width="9.4" height="10.0" fill="#e8ebf5"/>
<rect x="466.99" y="456.14" width="9.4" height="10.0" fill="#e8ebf5"/>
<rect x="477.56" y="456.14" width="9.4" height="10.0" fill="#28b8c8"/>
<rect x="488.13" y="456.14" width="9.4" height="10.0" fill="#e8ebf5"/>
<rect x="393.00" y="467.75" width="9.4" height="10.0" fill="#ff00ff"/>
<rect x="403.57" y="467.75" width="9.4" height="10.0" fill="#ff00ff"/>
<rect x="414.14" y="467.75" width="9.4" height="10.0" fill="#ffa500"/>
<rect x="424.71" y="467.75" width="9.4" height="10.0" fill="#ffa500"/>
<rect x="435.28" y="467.75" width="9.4" height="10.0" fill="#ff0000"/>
<rect x="445.85" y="467.75" width="9.4" height="10.0" fill="#ff0000"/>
<rect x="456.42" y="467.75" width="9.4" height="10.0" fill="#e8ebf5"/>
<rect x="466.99" y="467.75" width="9.4" height="10.0" fill="#e8ebf5"/>
<rect x="477.56" y="467.75" width="9.4" height="10.0" fill="#28b8c8"/>
<rect x="488.13" y="467.75" width="9.4" height="10.0" fill="#e8ebf5"/>
<rect x="393.00" y="479.36" width="9.4" height="10.0" fill="#ff00ff"/>
<rect x="403.57" y="479.36" width="9.4" height="10.0" fill="#ff00ff"/>
<rect x="414.14" y="479.36" width="9.4" height="10.0" fill="#ffa500"/>
<rect x="424.71" y="479.36" width="9.4" height="10.0" fill="#ffa500"/>
<rect x="435.28" y="479.36" width="9.4" height="10.0" fill="#ff0000"/>
<rect x="445.85" y="479.36" width="9.4" height="10.0" fill="#ff0000"/>
<rect x="456.42" y="479.36" width="9.4" height="10.0" fill="#e8ebf5"/>
<rect x="466.99" y="479.36" width="9.4" height="10.0" fill="#e8ebf5"/>
<rect x="477.56" y="479.36" width="9.4" height="10.0" fill="#28b8c8"/>
<rect x="488.13" y="479.36" width="9.4" height="10.0" fill="#e8ebf5"/>
<rect x="393.00" y="490.97" width="9.4" height="10.0" fill="#ff00ff"/>
<rect x="403.57" y="490.97" width="9.4" height="10.0" fill="#ff00ff"/>
<rect x="414.14" y="490.97" width="9.4" height="10.0" fill="#ffa500"/>
<rect x="424.71" y="490.97" width="9.4" height="10.0" fill="#ffa500"/>
<rect x="435.28" y="490.97" width="9.4" height="10.0" fill="#ff0000"/>
<rect x="445.85" y="490.97" width="9.4" height="10.0" fill="#ff0000"/>
<rect x="456.42" y="490.97" width="9.4" height="10.0" fill="#e8ebf5"/>
<rect x="466.99" y="490.97" width="9.4" height="10.0" fill="#e8ebf5"/>
<rect x="477.56" y="490.97" width="9.4" height="10.0" fill="#e8ebf5"/>
<rect x="488.13" y="490.97" width="9.4" height="10.0" fill="#e8ebf5"/>
<rect x="393.00" y="502.57" width="9.4" height="10.0" fill="#ff00ff"/>
<rect x="403.57" y="502.57" width="9.4" height="10.0" fill="#ff00ff"/>
<rect x="414.14" y="502.57" width="9.4" height="10.0" fill="#ffa500"/>
<rect x="424.71" y="502.57" width="9.4" height="10.0" fill="#ffa500"/>
<rect x="435.28" y="502.57" width="9.4" height="10.0" fill="#ff0000"/>
<rect x="445.85" y="502.57" width="9.4" height="10.0" fill="#ff0000"/>
<rect x="456.42" y="502.57" width="9.4" height="10.0" fill="#e8ebf5"/>
<rect x="466.99" y="502.57" width="9.4" height="10.0" fill="#e8ebf5"/>
<rect x="477.56" y="502.57" width="9.4" height="10.0" fill="#e8ebf5"/>
<rect x="488.13" y="502.57" width="9.4" height="10.0" fill="#e8ebf5"/>
<rect x="393.00" y="514.18" width="9.4" height="10.0" fill="#ff00ff"/>
<rect x="403.57" y="514.18" width="9.4" height="10.0" fill="#ff00ff"/>
<rect x="414.14" y="514.18" width="9.4" height="10.0" fill="#ffa500"/>
<rect x="424.71" y="514.18" width="9.4" height="10.0" fill="#ffa500"/>
<rect x="435.28" y="514.18" width="9.4" height="10.0" fill="#ff0000"/>
<rect x="445.85" y="514.18" width="9.4" height="10.0" fill="#ff0000"/>
<rect x="456.42" y="514.18" width="9.4" height="10.0" fill="#e8ebf5"/>
<rect x="466.99" y="514.18" width="9.4" height="10.0" fill="#e8ebf5"/>
<rect x="477.56" y="514.18" width="9.4" height="10.0" fill="#28b8c8"/>
<rect x="488.13" y="514.18" width="9.4" height="10.0" fill="#e8ebf5"/>
<rect x="393.00" y="525.79" width="9.4" height="10.0" fill="#ff00ff"/>
<rect x="403.57" y="525.79" width="9.4" height="10.0" fill="#ff00ff"/>
<rect x="414.14" y="525.79" width="9.4" height="10.0" fill="#ffa500"/>
<rect x="424.71" y="525.79" width="9.4" height="10.0" fill="#ffa500"/>
<rect x="435.28" y="525.79" width="9.4" height="10.0" fill="#ff0000"/>
<rect x="445.85" y="525.79" width="9.4" height="10.0" fill="#ff0000"/>
<rect x="456.42" y="525.79" width="9.4" height="10.0" fill="#e8ebf5"/>
<rect x="466.99" y="525.79" width="9.4" height="10.0" fill="#e8ebf5"/>
<rect x="477.56" y="525.79" width="9.4" height="10.0" fill="#28b8c8"/>
<rect x="488.13" y="525.79" width="9.4" height="10.0" fill="#e8ebf5"/>
<rect x="393.00" y="537.39" width="9.4" height="10.0" fill="#ff00ff"/>
<rect x="403.57" y="537.39" width="9.4" height="10.0" fill="#ff00ff"/>
<rect x="414.14" y="537.39" width="9.4" height="10.0" fill="#ffa500"/>
<rect x="424.71" y="537.39" width="9.4" height="10.0" fill="#ffa500"/>
<rect x="435.28" y="537.39" width="9.4" height="10.0" fill="#e8ebf5"/>
<rect x="445.85" y="537.39" width="9.4" height="10.0" fill="#e8ebf5"/>
<rect x="456.42" y="537.39" width="9.4" height="10.0" fill="#e8ebf5"/>
<rect x="466.99" y="537.39" width="9.4" height="10.0" fill="#e8ebf5"/>
<rect x="477.56" y="537.39" width="9.4" height="10.0" fill="#e8ebf5"/>
<rect x="488.13" y="537.39" width="9.4" height="10.0" fill="#e8ebf5"/>
<rect x="393.00" y="549.00" width="9.4" height="10.0" fill="#ff00ff"/>
<rect x="403.57" y="549.00" width="9.4" height="10.0" fill="#ff00ff"/>
<rect x="414.14" y="549.00" width="9.4" height="10.0" fill="#ffa500"/>
<rect x="424.71" y="549.00" width="9.4" height="10.0" fill="#ffa500"/>
<rect x="435.28" y="549.00" width="9.4" height="10.0" fill="#e8ebf5"/>
<rect x="445.85" y="549.00" width="9.4" height="10.0" fill="#e8ebf5"/>
<rect x="456.42" y="549.00" width="9.4" height="10.0" fill="#e8ebf5"/>
<rect x="466.99" y="549.00" width="9.4" height="10.0" fill="#e8ebf5"/>
<rect x="477.56" y="549.00" width="9.4" height="10.0" fill="#e8ebf5"/>
<rect x="488.13" y="549.00" width="9.4" height="10.0" fill="#e8ebf5"/>
<rect x="393.00" y="560.61" width="9.4" height="10.0" fill="#ff00ff"/>
<rect x="403.57" y="560.61" width="9.4" height="10.0" fill="#ff00ff"/>
<rect x="414.14" y="560.61" width="9.4" height="10.0" fill="#ffa500"/>
<rect x="424.71" y="560.61" width="9.4" height="10.0" fill="#ffa500"/>
<rect x="435.28" y="560.61" width="9.4" height="10.0" fill="#e8ebf5"/>
<rect x="445.85" y="560.61" width="9.4" height="10.0" fill="#e8ebf5"/>
<rect x="456.42" y="560.61" width="9.4" height="10.0" fill="#e8ebf5"/>
<rect x="466.99" y="560.61" width="9.4" height="10.0" fill="#e8ebf5"/>
<rect x="477.56" y="560.61" width="9.4" height="10.0" fill="#28b8c8"/>
<rect x="488.13" y="560.61" width="9.4" height="10.0" fill="#e8ebf5"/>
<rect x="393.00" y="572.21" width="9.4" height="10.0" fill="#ff00ff"/>
<rect x="403.57" y="572.21" width="9.4" height="10.0" fill="#ff00ff"/>
<rect x="414.14" y="572.21" width="9.4" height="10.0" fill="#ffa500"/>
<rect x="424.71" y="572.21" width="9.4" height="10.0" fill="#ffa500"/>
<rect x="435.28" y="572.21" width="9.4" height="10.0" fill="#ff0000"/>
<rect x="445.85" y="572.21" width="9.4" height="10.0" fill="#e8ebf5"/>
<rect x="456.42" y="572.21" width="9.4" height="10.0" fill="#e8ebf5"/>
<rect x="466.99" y="572.21" width="9.4" height="10.0" fill="#e8ebf5"/>
<rect x="477.56" y="572.21" width="9.4" height="10.0" fill="#28b8c8"/>
<rect x="488.13" y="572.21" width="9.4" height="10.0" fill="#e8ebf5"/>
<rect x="393.00" y="583.82" width="9.4" height="10.0" fill="#ff00ff"/>
<rect x="403.57" y="583.82" width="9.4" height="10.0" fill="#ff00ff"/>
<rect x="414.14" y="583.82" width="9.4" height="10.0" fill="#ffa500"/>
<rect x="424.71" y="583.82" width="9.4" height="10.0" fill="#ffa500"/>
<rect x="435.28" y="583.82" width="9.4" height="10.0" fill="#ff0000"/>
<rect x="445.85" y="583.82" width="9.4" height="10.0" fill="#ff0000"/>
<rect x="456.42" y="583.82" width="9.4" height="10.0" fill="#e8ebf5"/>
<rect x="466.99" y="583.82" width="9.4" height="10.0" fill="#e8ebf5"/>
<rect x="477.56" y="583.82" width="9.4" height="10.0" fill="#28b8c8"/>
<rect x="488.13" y="583.82" width="9.4" height="10.0" fill="#e8ebf5"/>
<rect x="393.00" y="595.43" width="9.4" height="10.0" fill="#ff00ff"/>
<rect x="403.57" y="595.43" width="9.4" height="10.0" fill="#ff00ff"/>
<rect x="414.14" y="595.43" width="9.4" height="10.0" fill="#ffa500"/>
<rect x="424.71" y="595.43" width="9.4" height="10.0" fill="#ffa500"/>
<rect x="435.28" y="595.43" width="9.4" height="10.0" fill="#ff0000"/>
<rect x="445.85" y="595.43" width="9.4" height="10.0" fill="#ff0000"/>
<rect x="456.42" y="595.43" width="9.4" height="10.0" fill="#e8ebf5"/>
<rect x="466.99" y="595.43" width="9.4" height="10.0" fill="#e8ebf5"/>
<rect x="477.56" y="595.43" width="9.4" height="10.0" fill="#28b8c8"/>
<rect x="488.13" y="595.43" width="9.4" height="10.0" fill="#e8ebf5"/>
<rect x="393.00" y="607.04" width="9.4" height="10.0" fill="#ff00ff"/>
<rect x="403.57" y="607.04" width="9.4" height="10.0" fill="#ff00ff"/>
<rect x="414.14" y="607.04" width="9.4" height="10.0" fill="#ffa500"/>
<rect x="424.71" y="607.04" width="9.4" height="10.0" fill="#ffa500"/>
<rect x="435.28" y="607.04" width="9.4" height="10.0" fill="#ff0000"/>
<rect x="445.85" y="607.04" width="9.4" height="10.0" fill="#ff0000"/>
<rect x="456.42" y="607.04" width="9.4" height="10.0" fill="#e8ebf5"/>
<rect x="466.99" y="607.04" width="9.4" height="10.0" fill="#e8ebf5"/>
<rect x="477.56" y="607.04" width="9.4" height="10.0" fill="#28b8c8"/>
<rect x="488.13" y="607.04" width="9.4" height="10.0" fill="#e8ebf5"/>
<rect x="393.00" y="618.64" width="9.4" height="10.0" fill="#ff00ff"/>
<rect x="403.57" y="618.64" width="9.4" height="10.0" fill="#ff00ff"/>
<rect x="414.14" y="618.64" width="9.4" height="10.0" fill="#ffa500"/>
<rect x="424.71" y="618.64" width="9.4" height="10.0" fill="#ffa500"/>
<rect x="435.28" y="618.64" width="9.4" height="10.0" fill="#ff0000"/>
<rect x="445.85" y="618.64" width="9.4" height="10.0" fill="#ff0000"/>
<rect x="456.42" y="618.64" width="9.4" height="10.0" fill="#e8ebf5"/>
<rect x="466.99" y="618.64" width="9.4" height="10.0" fill="#e8ebf5"/>
<rect x="477.56" y="618.64" width="9.4" height="10.0" fill="#28b8c8"/>
<rect x="488.13" y="618.64" width="9.4" height="10.0" fill="#e8ebf5"/>
<rect x="393.00" y="630.25" width="9.4" height="10.0" fill="#ff00ff"/>
<rect x="403.57" y="630.25" width="9.4" height="10.0" fill="#ff00ff"/>
<rect x="414.14" y="630.25" width="9.4" height="10.0" fill="#ffa500"/>
<rect x="424.71" y="630.25" width="9.4" height="10.0" fill="#ffa500"/>
<rect x="435.28" y="630.25" width="9.4" height="10.0" fill="#ff0000"/>
<rect x="445.85" y="630.25" width="9.4" height="10.0" fill="#ff0000"/>
<rect x="456.42" y="630.25" width="9.4" height="10.0" fill="#e8ebf5"/>
<rect x="466.99" y="630.25" width="9.4" height="10.0" fill="#e8ebf5"/>
<rect x="477.56" y="630.25" width="9.4" height="10.0" fill="#28b8c8"/>
<rect x="488.13" y="630.25" width="9.4" height="10.0" fill="#e8ebf5"/>
<rect x="393.00" y="641.86" width="9.4" height="10.0" fill="#ff00ff"/>
<rect x="403.57" y="641.86" width="9.4" height="10.0" fill="#ff00ff"/>
<rect x="414.14" y="641.86" width="9.4" height="10.0" fill="#e8ebf5"/>
<rect x="424.71" y="641.86" width="9.4" height="10.0" fill="#e8ebf5"/>
<rect x="435.28" y="641.86" width="9.4" height="10.0" fill="#e8ebf5"/>
<rect x="445.85" y="641.86" width="9.4" height="10.0" fill="#e8ebf5"/>
<rect x="456.42" y="641.86" width="9.4" height="10.0" fill="#e8ebf5"/>
<rect x="466.99" y="641.86" width="9.4" height="10.0" fill="#e8ebf5"/>
<rect x="477.56" y="641.86" width="9.4" height="10.0" fill="#e8ebf5"/>
<rect x="488.13" y="641.86" width="9.4" height="10.0" fill="#e8ebf5"/>
<rect x="393.00" y="653.46" width="9.4" height="10.0" fill="#ff00ff"/>
<rect x="403.57" y="653.46" width="9.4" height="10.0" fill="#ff00ff"/>
<rect x="414.14" y="653.46" width="9.4" height="10.0" fill="#e8ebf5"/>
<rect x="424.71" y="653.46" width="9.4" height="10.0" fill="#e8ebf5"/>
<rect x="435.28" y="653.46" width="9.4" height="10.0" fill="#e8ebf5"/>
<rect x="445.85" y="653.46" width="9.4" height="10.0" fill="#e8ebf5"/>
<rect x="456.42" y="653.46" width="9.4" height="10.0" fill="#e8ebf5"/>
<rect x="466.99" y="653.46" width="9.4" height="10.0" fill="#e8ebf5"/>
<rect x="477.56" y="653.46" width="9.4" height="10.0" fill="#e8ebf5"/>
<rect x="488.13" y="653.46" width="9.4" height="10.0" fill="#e8ebf5"/>
<rect x="393.00" y="665.07" width="9.4" height="10.0" fill="#ff00ff"/>
<rect x="403.57" y="665.07" width="9.4" height="10.0" fill="#ff00ff"/>
<rect x="414.14" y="665.07" width="9.4" height="10.0" fill="#e8ebf5"/>
<rect x="424.71" y="665.07" width="9.4" height="10.0" fill="#e8ebf5"/>
<rect x="435.28" y="665.07" width="9.4" height="10.0" fill="#e8ebf5"/>
<rect x="445.85" y="665.07" width="9.4" height="10.0" fill="#e8ebf5"/>
<rect x="456.42" y="665.07" width="9.4" height="10.0" fill="#e8ebf5"/>
<rect x="466.99" y="665.07" width="9.4" height="10.0" fill="#e8ebf5"/>
<rect x="477.56" y="665.07" width="9.4" height="10.0" fill="#e8ebf5"/>
<rect x="488.13" y="665.07" width="9.4" height="10.0" fill="#e8ebf5"/>
<rect x="393.00" y="676.68" width="9.4" height="10.0" fill="#ff00ff"/>
<rect x="403.57" y="676.68" width="9.4" height="10.0" fill="#ff00ff"/>
<rect x="414.14" y="676.68" width="9.4" height="10.0" fill="#e8ebf5"/>
<rect x="424.71" y="676.68" width="9.4" height="10.0" fill="#e8ebf5"/>
<rect x="435.28" y="676.68" width="9.4" height="10.0" fill="#e8ebf5"/>
<rect x="445.85" y="676.68" width="9.4" height="10.0" fill="#e8ebf5"/>
<rect x="456.42" y="676.68" width="9.4" height="10.0" fill="#e8ebf5"/>
<rect x="466.99" y="676.68" width="9.4" height="10.0" fill="#e8ebf5"/>
<rect x="477.56" y="676.68" width="9.4" height="10.0" fill="#e8ebf5"/>
<rect x="488.13" y="676.68" width="9.4" height="10.0" fill="#e8ebf5"/>
<g font-size="9" font-weight="bold" fill="#111"><text x="429.41" y="93.12" text-anchor="middle">I</text><text x="418.84" y="139.55" text-anchor="middle">d</text><text x="461.12" y="185.98" text-anchor="middle">T</text><text x="429.41" y="197.58" text-anchor="middle">I</text><text x="450.55" y="197.58" text-anchor="middle">D</text><text x="439.98" y="209.19" text-anchor="middle">d</text><text x="439.98" y="244.01" text-anchor="middle">D</text><text x="450.55" y="255.62" text-anchor="middle">D</text><text x="482.26" y="255.62" text-anchor="middle">t</text><text x="482.26" y="290.44" text-anchor="middle">t</text><text x="439.98" y="336.87" text-anchor="middle">T</text><text x="482.26" y="336.87" text-anchor="middle">t</text><text x="482.26" y="406.51" text-anchor="middle">t</text><text x="482.26" y="452.94" text-anchor="middle">t</text><text x="482.26" y="464.54" text-anchor="middle">t</text><text x="429.41" y="476.15" text-anchor="middle">T</text><text x="482.26" y="476.15" text-anchor="middle">t</text><text x="482.26" y="487.76" text-anchor="middle">t</text><text x="408.27" y="499.37" text-anchor="middle">d</text><text x="429.41" y="499.37" text-anchor="middle">T</text><text x="482.26" y="499.37" text-anchor="middle">t</text><text x="482.26" y="522.58" text-anchor="middle">t</text><text x="482.26" y="534.19" text-anchor="middle">t</text><text x="482.26" y="545.79" text-anchor="middle">t</text><text x="482.26" y="557.40" text-anchor="middle">t</text><text x="482.26" y="569.01" text-anchor="middle">t</text><text x="482.26" y="580.61" text-anchor="middle">Dt</text><text x="482.26" y="592.22" text-anchor="middle">t</text><text x="482.26" y="603.83" text-anchor="middle">t</text><text x="482.26" y="615.44" text-anchor="middle">t</text><text x="482.26" y="627.04" text-anchor="middle">t</text><text x="482.26" y="638.65" text-anchor="middle">t</text><text x="429.41" y="650.26" text-anchor="middle">R</text><text x="429.41" y="661.86" text-anchor="middle">R</text><text x="429.41" y="673.47" text-anchor="middle">R</text><text x="429.41" y="685.08" text-anchor="middle">R</text></g>
<g font-size="9" fill="#222"><text x="500.6" y="58.50"><tspan font-style="italic">Salmonella</tspan> ser. Typhi ERL024120</text><text x="500.6" y="70.11"><tspan font-style="italic">Salmonella</tspan> ser. Typhi M223</text><text x="500.6" y="81.72"><tspan font-style="italic">Salmonella</tspan> ser. Typhi PM016/13</text><text x="500.6" y="93.32"><tspan font-style="italic">E. coli</tspan> ABWA45</text><text x="500.6" y="104.93"><tspan font-style="italic">R. ornithinolytica</tspan> Yangling I2</text><text x="500.6" y="116.54"><tspan font-style="italic">E. coli</tspan> S1</text><text x="500.6" y="128.15"><tspan font-style="italic">E. coli</tspan> ED1a</text><text x="500.6" y="139.76"><tspan font-style="italic">K. pneumoniae</tspan> 1084</text><text x="500.6" y="151.36"><tspan font-style="italic">Enterobacter</tspan> sp. FY-07</text><text x="500.6" y="162.97"><tspan font-style="italic">S. marcescens</tspan> CAV1492</text><text x="500.6" y="174.58"><tspan font-style="italic">Kl. intermedia</tspan> CAV1151</text><text x="500.6" y="186.19"><tspan font-style="italic">Citrobacter freundii</tspan> 18-1</text><text x="500.6" y="197.80"><tspan font-style="italic">K. oxytoca</tspan> AR_0147</text><text x="500.6" y="209.40"><tspan font-style="italic">S. marcescens</tspan> SM39</text><text x="500.6" y="221.01"><tspan font-style="italic">E. coli</tspan> MEM</text><text x="500.6" y="232.62"><tspan font-style="italic">Salmonella</tspan> ser. Typhi P-stx-12</text><text x="500.6" y="244.23"><tspan font-style="italic">Salmonella</tspan> ser. Typhi Ty2</text><text x="500.6" y="255.84"><tspan font-style="italic">Y. rohdei</tspan> YRA</text><text x="500.6" y="267.44"><tspan font-style="italic">K. pneumoniae</tspan> 30684/NJST258_2</text><text x="500.6" y="279.05"><tspan font-style="italic">K. pneumoniae</tspan> strain AR_0148</text><text x="500.6" y="290.66"><tspan font-style="italic">K. michiganensis</tspan> M1</text><text x="500.6" y="302.27"><tspan font-style="italic">E. coli</tspan> ETEC-2265</text><text x="500.6" y="313.88"><tspan font-style="italic">E. coli</tspan> SF-088</text><text x="500.6" y="325.48"><tspan font-style="italic">Salmonella</tspan> ser. Anatum USDA... (*)</text><text x="500.6" y="337.09"><tspan font-style="italic">Ce. neteri</tspan> FDAARGOS_392</text><text x="500.6" y="348.70"><tspan font-style="italic">Salmonella</tspan> ser. Pullorum ATCC 9120</text><text x="500.6" y="360.31"><tspan font-style="italic">Salmonella</tspan> ser. Gallinarum 287/91</text><text x="500.6" y="371.92" fill="#ff0000" font-weight="bold"><tspan font-style="italic">Salmonella</tspan> ser. Enteritidis P125109</text><text x="500.6" y="383.52"><tspan font-style="italic">Salmonella</tspan> ser. Nitra S-1687</text><text x="500.6" y="395.13"><tspan font-style="italic">Salmonella</tspan> ser. Dublin CT_02021853</text><text x="500.6" y="406.74"><tspan font-style="italic">Salmonella</tspan> ser. Sloterdijk ATCC 15791</text><text x="500.6" y="418.35"><tspan font-style="italic">Salmonella</tspan> ser. Quebec S-1267</text><text x="500.6" y="429.96"><tspan font-style="italic">Salmonella</tspan> ser. Borreze SA20041063</text><text x="500.6" y="441.56"><tspan font-style="italic">Salmonella</tspan> ser. Agona 24249</text><text x="500.6" y="453.17"><tspan font-style="italic">E. coli</tspan> M8</text><text x="500.6" y="464.78"><tspan font-style="italic">E. coli</tspan> GE3</text><text x="500.6" y="476.39"><tspan font-style="italic">E. coli</tspan> Ecol_517</text><text x="500.6" y="488.00"><tspan font-style="italic">E. coli</tspan> YD786</text><text x="500.6" y="499.60"><tspan font-style="italic">E. coli</tspan> 0127:H6 E2348/69</text><text x="500.6" y="511.21"><tspan font-style="italic">Salmonella</tspan> ser. Inverness ATCC 10720</text><text x="500.6" y="522.82"><tspan font-style="italic">E. coli</tspan> CI5</text><text x="500.6" y="534.43"><tspan font-style="italic">E. coli</tspan> D7</text><text x="500.6" y="546.04"><tspan font-style="italic">S. marcescens</tspan> UMH3</text><text x="500.6" y="557.64"><tspan font-style="italic">Y. intermedia</tspan> Y228</text><text x="500.6" y="569.25"><tspan font-style="italic">P. atrosepticum</tspan> SCRI1043</text><text x="500.6" y="580.86"><tspan font-style="italic">P. parmentieri</tspan> RNS08.42.1A</text><text x="500.6" y="592.47"><tspan font-style="italic">P. carotovorum</tspan> subsp. <tspan font-style="italic">brasiliense</tspan> BC1</text><text x="500.6" y="604.08"><tspan font-style="italic">P. parmentieri</tspan> WPP163-<tspan font-weight="bold">2</tspan></text><text x="500.6" y="615.68"><tspan font-style="italic">P. wasabiae</tspan> CFBP 3304</text><text x="500.6" y="627.29"><tspan font-style="italic">P. atrosepticum</tspan> 21A</text><text x="500.6" y="638.90"><tspan font-style="italic">P. atrosepticum</tspan> SCRI1043-<tspan font-weight="bold">2</tspan></text><text x="500.6" y="650.51"><tspan font-style="italic">P. wasabie</tspan> SCC3193</text><text x="500.6" y="662.12"><tspan font-style="italic">P. carotovorum</tspan> SCC1</text><text x="500.6" y="673.72"><tspan font-style="italic">P. parmentieri</tspan> RNS08.42.1A-<tspan font-weight="bold">2</tspan></text><text x="500.6" y="685.33"><tspan font-style="italic">P. parmentieri</tspan> WPP163</text><text x="500.6" y="696.94"><tspan font-style="italic">Salmonella</tspan> ser. Typhi CT18</text><text x="500.6" y="708.55">P4</text></g>
<g font-size="9" fill="#222"><text x="197.10" y="308.30" text-anchor="end">97/1</text><text x="202.90" y="286.40" text-anchor="end">88/1</text><text x="173.90" y="384.80" text-anchor="end">100/1</text><text x="210.80" y="461.90" text-anchor="end">100/1</text><text x="156.50" y="463.50" text-anchor="end">60/1</text><text x="181.90" y="539.50" text-anchor="end">98/1</text><text x="118.60" y="538.70" text-anchor="end">86/0,95</text><text x="156.60" y="614.30" text-anchor="end">83/1</text><text x="170.00" y="595.70" text-anchor="end">72/1</text><text x="238.80" y="667.80" text-anchor="end">100/1</text><text x="56.7" y="664.50" text-anchor="middle">0.2</text></g>
<g font-size="10.0" fill="#111"><text transform="translate(397.40,48.35) rotate(-59.5)">Int</text><text transform="translate(408.15,48.35) rotate(-59.5)">RDF</text><text transform="translate(418.90,48.35) rotate(-59.5)">TraD</text><text transform="translate(429.65,48.35) rotate(-59.5)">Relaxase</text><text transform="translate(440.40,48.35) rotate(-59.5)">T4P-related</text><text transform="translate(451.15,48.35) rotate(-59.5)">T4Pilin</text><text transform="translate(461.90,48.35) rotate(-59.5)">R-M</text><text transform="translate(472.65,48.35) rotate(-59.5)">SpnT</text><text transform="translate(483.40,48.35) rotate(-59.5)">H-NS</text><text transform="translate(494.15,48.35) rotate(-59.5)">Tcp</text></g>
<text x="10.6" y="39.2" font-size="12" font-weight="bold" fill="#111">a</text>
<text x="372.6" y="39.2" font-size="11.8" font-weight="bold" fill="#111">b</text>
</svg></body></html>
